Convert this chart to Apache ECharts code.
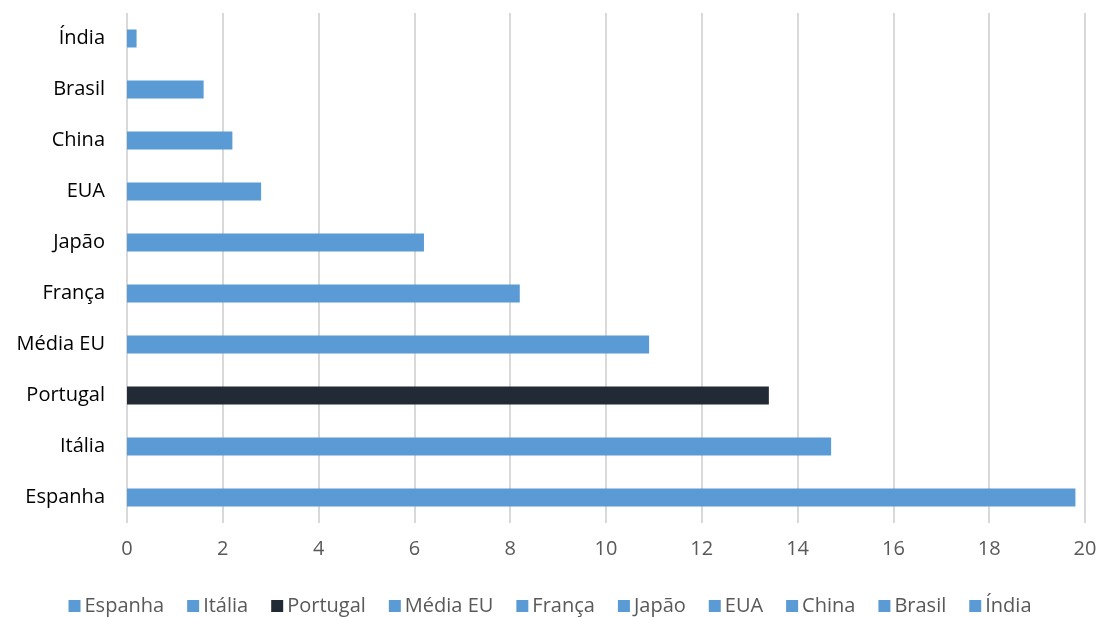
<!DOCTYPE html>
<html>
<head>
<meta charset="utf-8">
<script src="https://cdn.jsdelivr.net/npm/echarts@6/dist/echarts.min.js"></script>
<style>html,body{margin:0;padding:0;background:#fff}#c{width:1100px;height:617px}</style>
</head>
<body>
<div id="c"></div>
<script>
const categories = ['Espanha','Itália','Portugal','Média EU','França','Japão','EUA','China','Brasil','Índia'];
const values = [19.8, 14.7, 13.4, 10.9, 8.2, 6.2, 2.8, 2.2, 1.6, 0.2];
const colors = ['#5B9BD5','#5B9BD5','#222A35','#5B9BD5','#5B9BD5','#5B9BD5','#5B9BD5','#5B9BD5','#5B9BD5','#5B9BD5'];
const xTicks = [0,2,4,6,8,10,12,14,16,18,20];

const FONT = 'Open Sans';
const series = categories.map((name, i) => ({
  name: name,
  type: 'bar',
  stack: 'all',
  barWidth: 18,
  itemStyle: { color: colors[i] },
  data: categories.map((c, j) => j === i ? values[i] : '-')
}));

const chart = echarts.init(document.getElementById('c'), null, {renderer: 'canvas'});
chart.setOption({
  animation: false,
  textStyle: { fontFamily: FONT },
  grid: { left: 127, right: 15, top: 13, bottom: 94 },
  legend: {
    top: 591,
    left: 'center',
    itemWidth: 12,
    itemHeight: 12,
    itemGap: 23,
    icon: 'rect',
    textStyle: { fontFamily: FONT, fontSize: 20, color: '#595959', padding: [0,0,0,-1] },
    data: categories
  },
  xAxis: {
    type: 'value',
    min: xTicks[0],
    max: xTicks[xTicks.length - 1],
    interval: 2,
    axisLine: { show: false },
    axisTick: { show: false },
    splitLine: { lineStyle: { color: '#D9D9D9', width: 2 } },
    axisLabel: { fontFamily: FONT, fontSize: 20, color: '#595959', margin: 16 }
  },
  yAxis: {
    type: 'category',
    data: categories,
    axisLine: { show: false },
    axisTick: { show: false },
    axisLabel: { fontFamily: FONT, fontSize: 20, color: '#000000', margin: 22 }
  },
  series: series
});
</script>
</body>
</html>
